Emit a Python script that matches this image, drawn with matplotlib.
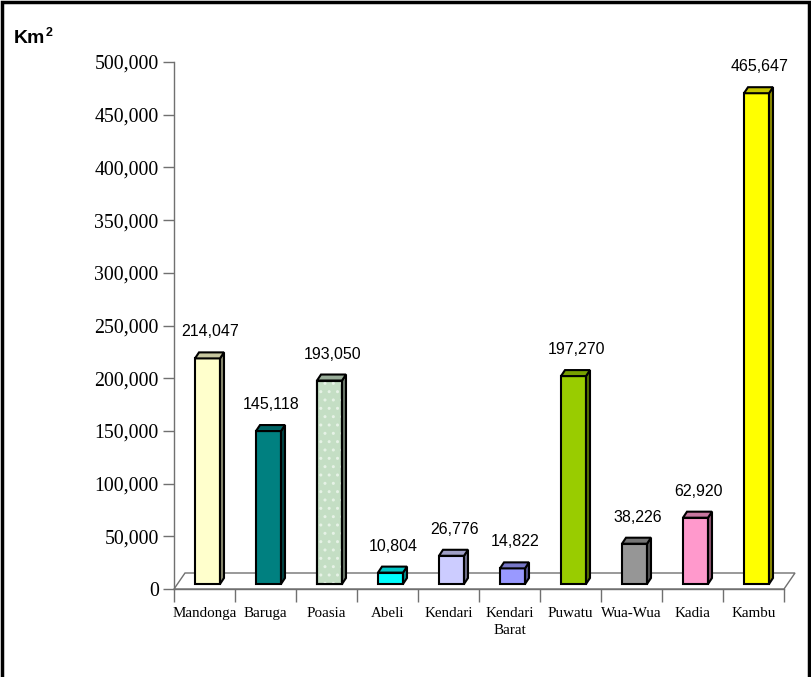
import matplotlib
matplotlib.use("Agg")
import matplotlib.pyplot as plt
from matplotlib.patches import Polygon, Rectangle
from matplotlib.colors import to_rgb

# data
districts = ["Mandonga", "Baruga", "Poasia", "Abeli", "Kendari", "Kendari\nBarat",
             "Puwatu", "Wua-Wua", "Kadia", "Kambu"]
area = [214047, 145118, 193050, 10804, 26776, 14822, 197270, 38226, 62920, 465647]
colors = ["#FFFFCC", "#008080", "#C4DEC4", "#00FFFF", "#CCCCFF", "#9999FF",
          "#99CC00", "#969696", "#FF99CC", "#FFFF00"]
y_ticks = list(range(0, 500001, 50000))

W, H = 811, 677
fig = plt.figure(figsize=(W / 100, H / 100), dpi=100)

# axes frame in pixels (front plane of the 3d chart)
left, right, bottom, top = 174, 784, 589, 62
ax = fig.add_axes([left / W, (H - bottom) / H, (right - left) / W, (bottom - top) / H])
ax.set_xlim(0, len(districts))
ax.set_ylim(0, 500000)

# pixel -> data conversion
ux = len(districts) / (right - left)
uy = 500000 / (bottom - top)

grey = "#707070"

# floor of the 3d chart
floor_dx, floor_dy = 11 * ux, 16 * uy
n = len(districts)
ax.add_patch(Polygon([(0, 0), (n, 0), (n + floor_dx, floor_dy), (floor_dx, floor_dy)],
                     closed=True, facecolor="white", edgecolor=grey, lw=1.0,
                     clip_on=False, zorder=1))


def shade(c, f):
    r, g, b = to_rgb(c)
    return (r * f, g * f, b * f)


# 3d bars
bx, by = 3 * ux, 5 * uy          # position of bars inside the floor
bw = 25 * ux                      # front width
ddx, ddy = 4 * ux, 6 * uy         # bar depth
elw = 1.5
for i, (v, c) in enumerate(zip(area, colors)):
    x0 = i + (1 - 25 / 61) / 2 + bx
    x1 = x0 + bw
    y0 = by
    y1 = by + v
    face = [(x0, y0), (x1, y0), (x1, y1), (x0, y1)]
    ax.add_patch(Polygon(face, closed=True, facecolor=c, edgecolor="black", lw=elw,
                         clip_on=False, zorder=3))
    if districts[i] == "Poasia":
        # speckled texture
        ax.add_patch(Polygon(face, closed=True, facecolor="none", edgecolor="#E6F2E6",
                             lw=0, hatch="..", clip_on=False, zorder=3))
        ax.add_patch(Polygon(face, closed=True, facecolor="none", edgecolor="black",
                             lw=elw, clip_on=False, zorder=3))
    side = Polygon([(x1, y0), (x1 + ddx, y0 + ddy), (x1 + ddx, y1 + ddy), (x1, y1)],
                   closed=True, facecolor=shade(c, 0.55), edgecolor="black", lw=elw,
                   clip_on=False, zorder=3)
    topf = Polygon([(x0, y1), (x1, y1), (x1 + ddx, y1 + ddy), (x0 + ddx, y1 + ddy)],
                   closed=True, facecolor=shade(c, 0.78), edgecolor="black", lw=elw,
                   clip_on=False, zorder=3)
    ax.add_patch(side)
    ax.add_patch(topf)
    ax.text((x0 + x1 + ddx) / 2 + 1 * ux, y1 + ddy + 16 * uy, f"{v:,}",
            ha="center", va="baseline", fontsize=11.5, family="Liberation Sans",
            zorder=4)

# axes styling
for s in ["top", "right"]:
    ax.spines[s].set_visible(False)
for s in ["left", "bottom"]:
    ax.spines[s].set_color(grey)
    ax.spines[s].set_linewidth(1.0)
    ax.spines[s].set_zorder(2)
ax.patch.set_visible(False)

ax.set_yticks(y_ticks)
ax.set_yticklabels([f"{t:,}" for t in y_ticks], family="Liberation Serif", fontsize=14.3)
ax.tick_params(axis="y", length=8, width=1.0, color=grey, pad=3)

ax.set_xticks(range(n + 1))
ax.set_xticklabels([])
ax.set_xticks([i + 0.5 for i in range(n)], minor=True)
ax.set_xticklabels(districts, minor=True, family="Liberation Serif", fontsize=10.8,
                   linespacing=1.35)
ax.tick_params(axis="x", which="major", length=9, width=1.0, color=grey)
ax.tick_params(axis="x", which="minor", length=0, pad=13)

# unit label
fig.text(14 / W, 1 - 43 / H, "Km", fontsize=14, fontweight="bold",
         family="Liberation Sans", ha="left", va="baseline")
fig.text(46 / W, 1 - 36 / H, "2", fontsize=9, fontweight="bold",
         family="Liberation Sans", ha="left", va="baseline")

# outer border
fig.patches.append(Rectangle((1.5 / W, -0.05), (807 / W), 1.05 - 2 / H,
                             transform=fig.transFigure, fill=False,
                             edgecolor="black", lw=2.5))

fig.savefig("out.png", dpi=100)
